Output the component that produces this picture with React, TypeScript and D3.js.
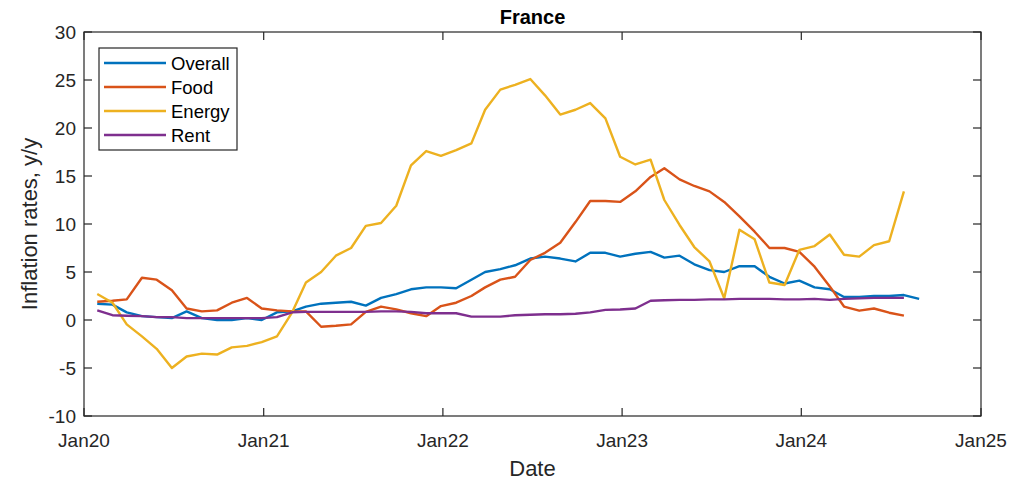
import React from "react";
import * as d3 from "d3";

const overall = [1.7,1.6,0.8,0.4,0.3,0.2,0.9,0.2,0.0,0.0,0.2,0.0, 0.8,0.9,1.4,1.7,1.8,1.9,1.5,2.3,2.7,3.2,3.4,3.4, 3.3,4.2,5.0,5.3,5.7,6.4,6.6,6.4,6.1,7.0,7.0,6.6, 6.9,7.1,6.5,6.7,5.8,5.2,5.0,5.6,5.6,4.5,3.8,4.1, 3.4,3.2,2.4,2.4,2.5,2.5,2.6,2.2];
const food = [1.9,2.0,2.15,4.4,4.2,3.1,1.2,0.9,1.0,1.8,2.3,1.2, 1.0,0.9,0.9,-0.7,-0.6,-0.45,0.85,1.4,1.1,0.7,0.4,1.45, 1.8,2.5,3.4,4.2,4.5,6.25,7.0,8.05,10.2,12.4,12.4,12.3, 13.4,14.9,15.8,14.65,13.96,13.4,12.3,10.8,9.2,7.5,7.5,7.1, 5.55,3.5,1.4,0.97,1.2,0.76,0.45];
const energy = [2.7,1.8,-0.45,-1.7,-3.0,-5.0,-3.8,-3.5,-3.6,-2.85,-2.7,-2.3, -1.7,0.8,3.9,5.0,6.7,7.5,9.8,10.1,11.9,16.1,17.6,17.1, 17.7,18.4,21.9,24.0,24.5,25.1,23.4,21.4,21.9,22.6,21.0,17.0, 16.2,16.7,12.5,9.9,7.6,6.1,2.26,9.4,8.4,3.9,3.65,7.3, 7.7,8.9,6.8,6.6,7.8,8.2,13.4];
const rent = [1.0,0.5,0.45,0.4,0.3,0.3,0.2,0.2,0.2,0.2,0.2,0.2, 0.3,0.8,0.85,0.85,0.85,0.85,0.85,0.9,0.9,0.85,0.7,0.7, 0.7,0.35,0.35,0.35,0.5,0.55,0.6,0.6,0.65,0.8,1.05,1.1, 1.2,2.0,2.05,2.1,2.1,2.15,2.15,2.2,2.2,2.2,2.15,2.15, 2.2,2.1,2.2,2.25,2.3,2.3,2.3];

const seriesNames = ["Overall", "Food", "Energy", "Rent"];
const seriesValues = [overall, food, energy, rent];
const seriesColors = ["#0072BD", "#D95319", "#EDB120", "#7E2F8E"];
const yTicks = [-10, -5, 0, 5, 10, 15, 20, 25, 30];
const xTickYears = [2020, 2021, 2022, 2023, 2024, 2025];

const W = 1009, H = 483;
const L = 84, R = 981, T = 32, B = 416;
const TXT = "#262626";
const FONT = "'Liberation Sans', Arial, sans-serif";

export default function App() {
  const x = d3.scaleTime().domain([new Date(2020, 0, 1), new Date(2025, 0, 1)]).range([L, R]);
  const y = d3.scaleLinear().domain([-10, 30]).range([B, T]);
  const dateOf = (i: number) => new Date(2020, i, 28);
  const line = d3.line<number>().x((_, i) => x(dateOf(i))).y((v) => y(v));
  const fmt = d3.timeFormat("%b%y");
  const tickLen = 8;

  return (
    <svg width={W} height={H} style={{ position: "absolute", left: 0, top: 0, background: "#fff" }} fontFamily={FONT}>
      <rect x={0} y={0} width={W} height={H} fill="#fff" />
      <text x={(L + R) / 2} y={24} textAnchor="middle" fontSize={20} fontWeight="bold" fill="#000">France</text>
      <g fill="none" strokeWidth={2.4} strokeLinejoin="round">
        {seriesValues.map((vals, k) => (
          <path key={k} d={line(vals) || ""} stroke={seriesColors[k]} />
        ))}
      </g>
      <rect x={L} y={T} width={R - L} height={B - T} fill="none" stroke={TXT} strokeWidth={1.2} />
      {yTicks.map((t) => (
        <g key={t}>
          <line x1={L} x2={L + tickLen} y1={y(t)} y2={y(t)} stroke={TXT} strokeWidth={1.2} />
          <line x1={R} x2={R - tickLen} y1={y(t)} y2={y(t)} stroke={TXT} strokeWidth={1.2} />
          <text x={L - 8} y={y(t) + 7} textAnchor="end" fontSize={19} fill={TXT}>{t}</text>
        </g>
      ))}
      {xTickYears.map((yr) => {
        const d = new Date(yr, 0, 1);
        const px = x(d);
        return (
          <g key={yr}>
            <line x1={px} x2={px} y1={B} y2={B - tickLen} stroke={TXT} strokeWidth={1.2} />
            <line x1={px} x2={px} y1={T} y2={T + tickLen} stroke={TXT} strokeWidth={1.2} />
            <text x={px} y={B + 31} textAnchor="middle" fontSize={19} fill={TXT}>{fmt(d)}</text>
          </g>
        );
      })}
      <text x={(L + R) / 2} y={476} textAnchor="middle" fontSize={22} fill={TXT}>Date</text>
      <text transform={`translate(37,${(T + B) / 2}) rotate(-90)`} textAnchor="middle" fontSize={22} fill={TXT}>Inflation rates, y/y</text>
      <rect x={99} y={48} width={138} height={102} fill="#fff" stroke={TXT} strokeWidth={1.2} />
      {seriesNames.map((n, k) => (
        <g key={n}>
          <line x1={104} x2={166} y1={63 + k * 24} y2={63 + k * 24} stroke={seriesColors[k]} strokeWidth={2.4} />
          <text x={171} y={63 + k * 24 + 7} fontSize={18.5} fill="#000">{n}</text>
        </g>
      ))}
    </svg>
  );
}
